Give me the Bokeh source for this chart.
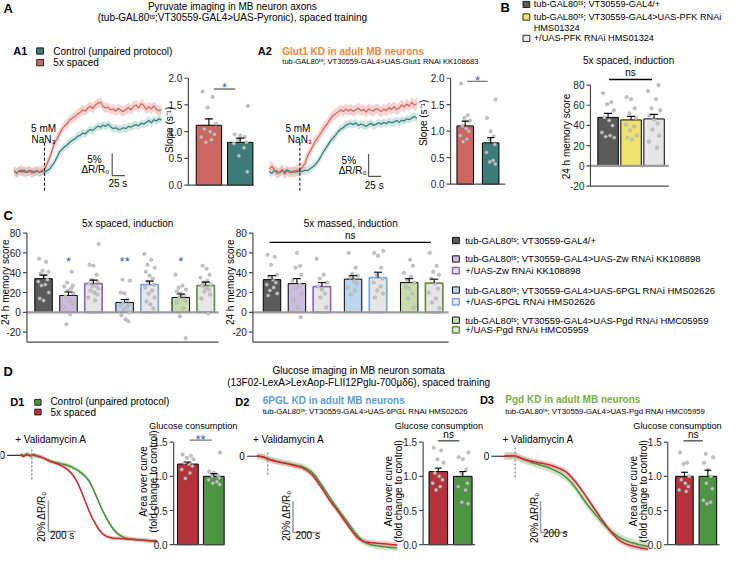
import numpy as np
from bokeh.plotting import figure
from bokeh.models import Range1d
from bokeh.core.properties import value
from bokeh.embed import file_html
from bokeh.resources import INLINE

FONT = "Liberation Sans"

# ------------------------------------------------------------------ data
# Panel A: pyruvate imaging traces (% dR/R0), every 5 s from -60 s to 230 s (0 = NaN3)
A_TIME = list(range(-60, 235, 5))
A1_SPACED = [0.2, -0.3, 0.1, 0.4, -0.2, 0.0, 0.3, -0.4, 0.1, 0.2, -0.1, 0.3, 0.5,
             1.8, 3.0, 4.8, 6.5, 7.4, 8.6, 9.6, 10.2, 10.8, 11.6, 12.0, 12.3, 12.9, 13.2, 13.8,
             13.5, 14.2, 14.6, 14.1, 14.9, 15.3, 15.5, 14.6, 14.2, 14.4, 13.8, 14.0, 13.5, 14.1,
             13.7, 13.4, 13.9, 14.3, 13.8, 14.6, 14.9, 14.2, 15.2, 14.8, 13.9, 14.5, 14.0, 14.7,
             13.9, 13.6, 13.8]
A1_CONTROL = [0.1, -0.4, 0.2, -0.1, 0.3, -0.2, 0.0, 0.2, -0.3, 0.1, -0.2, 0.0, -0.1,
              0.2, 0.6, 1.3, 2.2, 3.3, 4.5, 5.0, 5.6, 6.0, 6.6, 7.0, 7.3, 7.9, 8.1, 8.6,
              8.4, 9.0, 9.4, 9.2, 9.7, 10.2, 9.9, 10.4, 10.1, 10.6, 10.0, 9.6, 9.8, 9.4,
              9.5, 9.8, 9.6, 10.1, 9.9, 10.3, 10.5, 10.2, 10.8, 10.6, 11.0, 11.4, 10.9, 11.6,
              11.3, 11.8, 11.5]
A2_SPACED = [0.6, 1.2, 0.3, -0.5, -0.2, 0.5, -0.6, 0.2, -0.3, 0.1, -0.2, 0.3, 0.4,
             1.0, 1.8, 3.5, 4.5, 5.6, 6.8, 7.5, 8.4, 9.3, 10.1, 10.9, 11.8, 12.5, 12.9, 13.3,
             13.8, 13.4, 14.0, 13.6, 13.9, 13.5, 13.8, 14.2, 13.6, 13.9, 13.3, 14.0, 13.7, 13.5,
             14.1, 13.8, 13.4, 14.0, 13.6, 14.3, 13.9, 14.5, 13.8, 14.2, 14.9, 14.4, 15.1, 14.6,
             15.5, 14.8, 15.2]
A2_CONTROL = [0.0, -0.4, 0.3, 0.1, -0.3, 0.2, -0.1, 0.4, 0.0, -0.2, 0.2, -0.1, 0.1,
              0.0, 0.3, 0.2, 0.6, 1.0, 1.5, 2.2, 3.1, 4.2, 5.0, 5.9, 6.8, 7.5, 8.1, 8.9,
              9.5, 9.8, 10.3, 10.6, 10.8, 10.5, 10.9, 10.3, 10.6, 10.4, 10.1, 10.5, 10.8, 10.3,
              10.6, 10.9, 10.6, 11.0, 10.7, 11.2, 10.9, 11.1, 11.4, 11.0, 11.5, 11.3, 11.8, 11.6,
              12.0, 12.3, 11.9]
A1_SPACED_SEM, A1_CONTROL_SEM = 1.1, 0.9
A2_SPACED_SEM, A2_CONTROL_SEM = 1.2, 0.9
A_SCALE = (5, 25)          # 5 % dR/R0, 25 s

A_GROUPS = ["5x spaced", "Control (unpaired protocol)"]
A1_SLOPE_MEAN = [1.12, 0.80]
A1_SLOPE_SEM = [0.12, 0.08]
A1_SLOPE_DOTS = [[1.75, 1.65, 1.45, 1.15, 1.05, 1.0, 0.95, 0.9, 0.85, 0.8],
                 [1.48, 0.95, 0.93, 0.9, 0.85, 0.8, 0.78, 0.7, 0.55, 0.25]]
A2_SLOPE_MEAN = [1.10, 0.78]
A2_SLOPE_SEM = [0.09, 0.10]
A2_SLOPE_DOTS = [[1.9, 1.3, 1.25, 1.2, 1.1, 1.05, 1.0, 0.92, 0.85, 0.8],
                 [1.6, 1.25, 1.0, 0.9, 0.85, 0.75, 0.6, 0.45, 0.42, 0.38]]
SLOPE_TICKS = [0.0, 0.5, 1.0, 1.5, 2.0]

# Panel B: 24 h memory, PFK
B_GROUPS = ["tub-GAL80ᵗˢ; VT30559-GAL4/+", "tub-GAL80ᵗˢ; VT30559-GAL4>UAS-PFK RNAi HMS01324",
            "+/UAS-PFK RNAi HMS01324"]
B_MEAN = [48, 45.5, 46.5]
B_SEM = [4.0, 3.5, 4.5]
B_DOTS = [[72, 63, 61, 55, 48, 45, 40, 33, 30, 29, 28],
          [68, 66, 57, 52, 47, 41, 39, 35, 30, 28, 26],
          [80, 74, 66, 57, 55, 50, 46, 42, 36, 30, 24, 18]]
MEM_TICKS = [-20, 0, 20, 40, 60, 80]

# Panel C: 24 h memory, PPP knock-downs
C_GROUPS = ["tub-GAL80ᵗˢ; VT30559-GAL4/+",
            "tub-GAL80ᵗˢ; VT30559-GAL4>UAS-Zw RNAi  KK108898",
            "+/UAS-Zw RNAi KK108898",
            "tub-GAL80ᵗˢ; VT30559-GAL4>UAS-6PGL RNAi HMS02626",
            "+/UAS-6PGL RNAi HMS02626",
            "tub-GAL80ᵗˢ; VT30559-GAL4>UAS-Pgd RNAi HMC05959",
            "+/UAS-Pgd RNAi HMC05959"]
C_SPACED_MEAN = [34, 17, 29, 10, 28, 15, 27]
C_SPACED_SEM = [3.5, 3.5, 3.5, 3.0, 3.5, 3.5, 3.5]
C_SPACED_DOTS = [[54, 51, 42, 41, 39, 37, 33, 31, 28, 27, 20, 14, 12],
                 [41, 30, 27, 26, 24, 22, 19, 16, 12, 9, 5, -2, -12],
                 [69, 48, 47, 38, 33, 31, 29, 27, 26, 24, 22, 20, 18, 15, 12],
                 [33, 32, 20, 19, 13, 10, 8, 7, 5, 3, 0, -3, -7, -9],
                 [59, 53, 48, 45, 41, 37, 34, 31, 28, 25, 22, 19, 15, 11, 8, 4],
                 [38, 27, 25, 23, 21, 19, 17, 15, 12, 10, 4, -4, -26],
                 [47, 44, 38, 35, 32, 30, 28, 27, 25, 23, 21, 18, 14, -1]]
C_SPACED_SIG = ["", "*", "", "**", "", "*", ""]
C_MASSED_MEAN = [33, 29, 26, 33.5, 35, 30, 29.5]
C_MASSED_SEM = [4.0, 5.0, 4.0, 3.5, 5.5, 4.0, 4.0]
C_MASSED_DOTS = [[58, 56, 48, 38, 36, 33, 30, 28, 25, 22, 19, 17],
                 [60, 47, 45, 38, 32, 28, 25, 19, 12, 5, -5],
                 [54, 38, 34, 30, 26, 23, 19, 15, 5],
                 [60, 45, 39, 37, 35, 32, 29, 25, 22, 18],
                 [62, 60, 57, 45, 38, 34, 30, 26, 22, 19, 15],
                 [53, 47, 40, 36, 33, 30, 26, 24, 19, 14, 5],
                 [60, 47, 41, 38, 34, 29, 24, 20, 14, 10, 4]]

# Panel D: glucose imaging traces (% dR/R0), every 25 s
D1_TIME = list(range(0, 1001, 25))
D1_SPACED = [0.5, -0.8, 0.9, -0.5, 0.6, -0.4, -1.0, -1.8, -3.0, -4.0, -4.8, -5.6, -6.6, -7.8,
             -9.4, -11.5, -14.6, -18.5, -23.8, -29.5, -35.0, -40.0, -44.0, -47.8, -50.3, -51.8,
             -52.7, -53.2, -53.4, -53.5, -53.6, -53.8, -53.9, -54.0, -54.2, -54.4, -54.6, -54.8,
             -55.0, -55.1, -55.2]
D1_CONTROL = [0.2, 0.0, 0.4, 0.1, -0.2, -0.6, -1.2, -2.0, -3.0, -3.9, -4.5, -5.0, -5.5, -5.9,
              -6.6, -7.5, -8.6, -9.9, -11.5, -13.5, -16.0, -20.0, -25.0, -30.0, -35.2, -39.5,
              -43.4, -46.8, -49.4, -51.2, -52.5, -53.3, -53.8, -54.1, -54.3, -54.4, -54.6, -54.8,
              -55.0, -55.1, -55.3]
D2_TIME = list(range(0, 1026, 25))
D2_SPACED = [0.2, 0.0, -0.4, -1.6, -2.4, -3.0, -3.5, -4.0, -4.4, -4.9, -5.5, -6.1, -6.6, -7.1,
             -8.2, -9.8, -11.6, -14.3, -17.4, -20.6, -24.0, -27.5, -30.5, -33.3, -36.4, -39.6,
             -42.6, -45.8, -48.8, -51.5, -53.5, -54.6, -55.1, -55.5, -55.7, -55.9, -56.1, -56.3,
             -56.5, -56.7, -56.9, -57.1]
D2_CONTROL = [0.0, -0.2, -0.6, -1.4, -2.1, -2.7, -3.3, -3.8, -4.2, -4.6, -5.1, -5.6, -6.1, -6.5,
              -7.4, -8.6, -10.1, -12.4, -15.6, -18.8, -22.1, -25.5, -28.8, -31.9, -35.0, -38.0,
              -41.0, -44.0, -47.0, -49.9, -52.5, -54.6, -55.8, -56.6, -57.2, -57.6, -57.9, -58.2,
              -58.4, -58.6, -58.8, -59.0]
D3_TIME = list(range(0, 1051, 25))
D3_SPACED = [0.0, 0.2, 0.1, 0.4, -0.3, -1.3, -2.1, -2.7, -3.2, -3.7, -4.1, -4.5, -5.0, -5.5,
             -6.1, -6.9, -7.8, -8.7, -10.0, -12.0, -14.4, -17.0, -20.0, -23.1, -26.3, -29.6,
             -32.8, -36.0, -39.3, -42.4, -45.4, -48.2, -50.8, -53.0, -54.7, -55.9, -56.8, -57.5,
             -58.0, -58.5, -59.0, -59.4, -59.8]
D3_CONTROL = [0.0, 0.1, 0.2, 0.0, -0.6, -1.5, -2.4, -3.3, -4.0, -4.7, -5.3, -5.9, -6.6, -7.4,
              -8.4, -9.4, -10.5, -11.7, -13.5, -15.6, -18.0, -20.9, -24.1, -27.3, -30.4, -33.3,
              -35.9, -38.5, -41.2, -43.6, -45.9, -48.0, -49.8, -51.4, -52.7, -53.8, -54.7, -55.4,
              -56.0, -56.6, -57.1, -57.5, -58.0]
D1_SEM = (1.2, 1.5)   # spaced, control
D2_SEM = (1.8, 2.0)
D3_SEM = (1.8, 2.5)
D_STIM = [86, 79, 79]   # Validamycin A addition (s)
D_SCALE = (20, 200)     # 20 % dR/R0, 200 s

D1_MEAN, D1_ERR = [1.18, 1.00], [0.03, 0.04]
D1_DOTS = [[1.32, 1.30, 1.27, 1.25, 1.20, 1.18, 1.15, 1.10, 1.05, 0.97],
           [1.35, 1.07, 1.05, 1.02, 1.00, 0.98, 0.95, 0.92, 0.90, 0.88]]
D2_MEAN, D2_ERR = [1.07, 1.00], [0.05, 0.07]
D2_DOTS = [[1.42, 1.38, 1.25, 1.20, 1.05, 1.00, 0.95, 0.90, 0.85, 0.80],
           [1.35, 1.28, 1.25, 1.10, 1.05, 0.90, 0.85, 0.80, 0.62, 0.60]]
D3_MEAN, D3_ERR = [1.00, 1.00], [0.06, 0.09]
D3_DOTS = [[1.35, 1.20, 1.18, 1.00, 0.95, 0.90, 0.85, 0.80, 0.78],
           [1.33, 1.28, 1.20, 1.10, 1.00, 0.90, 0.82, 0.65, 0.62, 0.60]]
D_TICKS = [0.0, 0.5, 1.0, 1.5]

# ------------------------------------------------------------------ style
JIT = [-0.25, 0.15, -0.05, 0.28, -0.18, 0.05, 0.22, -0.3, 0.1, -0.12, 0.3, -0.22, 0.0, 0.18, -0.08, 0.25]
C_POS = [0, 1, 2, 3.25, 4.25, 5.5, 6.5]
AXC = "#4a4a4a"
STAR = "#3D5DB0"
A_RED, A_RED_BAND, A_TEAL, A_TEAL_BAND = "#D65F5A", "#EDB1AD", "#2E7C78", "#A9CECA"
A_RED_BAR, A_TEAL_BAR = "#CC6661", "#3D7C79"
D_RED, D_RED_BAND, D_GREEN, D_GREEN_BAND = "#C92A2E", "#E9A5A5", "#4A8C3E", "#AFD3A3"
D_RED_BAR, D_GREEN_BAR = "#B5323B", "#4E9444"
B_FILLS = ["#5A5A5A", "#F0E26C", "#E6E6E6"]
C_FILLS = ["#5A5A5A", "#CDBCDD", "#E6E6E6", "#BCD6EF", "#E6E6E6", "#C6DEAC", "#E6E6E6"]
C_EDGES = ["black", "black", "#8B6BB3", "black", "#7DA5DD", "black", "#6A8F3E"]
C_EDGE_W = [1, 1, 1.7, 1, 1.7, 1, 1.7]

p = figure(width=724, height=551, x_range=Range1d(0, 740), y_range=Range1d(567, 0),
           output_backend="svg", toolbar_location=None, tools="",
           x_axis_location=None, y_axis_location=None, min_border=0)
p.grid.visible = False
p.outline_line_color = None
p.background_fill_color = "white"
p.border_fill_color = "white"

R90 = np.pi / 2


def T(x, y, s, size=10, align="left", color="black", bold=False, angle=0.0,
      baseline="middle", g=None, xo=0, yo=0):
    (g or p).text(x=[x], y=[y], text=[s], text_font=value(FONT), text_font_size=f"{size}px",
                  text_align=align, text_baseline=baseline, text_color=color,
                  text_font_style="bold" if bold else "normal", angle=angle,
                  x_offset=xo, y_offset=yo)


def sub(xs, xt, ys, yt):
    return p.subplot(x_source=Range1d(*xs), y_source=Range1d(*ys),
                     x_target=Range1d(*xt), y_target=Range1d(*yt))


def key(x, y, fill, edge="black", lw=0.8, w=7, h=6.5):
    p.quad(left=[x], right=[x + w], top=[y - h / 2], bottom=[y + h / 2],
           fill_color=fill, line_color=edge, line_width=lw)


def trace(g, t, v, sem, color, band, alpha=0.55):
    v = np.asarray(v, float)
    g.varea(x=t, y1=v - sem, y2=v + sem, fill_color=band, fill_alpha=alpha)


def tline(g, t, v, color, lw):
    g.line(x=t, y=v, line_color=color, line_width=lw)


def bar_panel(xs, xt, ys, yt, means, sems, dots, fills, edges, ticks, labels,
              pos=None, bw=0.8, edge_w=1.0, cap=7, axis_y0=None, zero_line=False,
              dot_size=3.4):
    g = sub(xs, xt, ys, yt)
    pos = pos if pos is not None else list(range(len(means)))
    x0, x1 = xs
    if axis_y0 is None:
        axis_y0 = ticks[0]
    g.vbar(x=pos, top=means, bottom=0, width=bw, fill_color=fills, line_color=edges,
           line_width=edge_w)
    if zero_line:
        g.segment(x0=[x0], y0=[0], x1=[x1], y1=[0], line_color="#9C9C9C", line_width=2.2)
    dx, dy, k = [], [], 0
    for c, vals in zip(pos, dots):
        for v in vals:
            dx.append(c + JIT[k % len(JIT)] * bw)
            dy.append(v)
            k += 1
    g.scatter(x=dx, y=dy, size=dot_size, fill_color="#C6C6C6", line_color="#9A9A9A",
              line_width=0.5)
    tops = [m + s for m, s in zip(means, sems)]
    g.segment(x0=pos, y0=means, x1=pos, y1=tops, line_color="black", line_width=1.1)
    g.scatter(x=pos, y=tops, marker="dash", size=cap, line_color="black", line_width=1.1)
    g.segment(x0=[x0], y0=[min(axis_y0, ticks[0])], x1=[x0], y1=[ticks[-1]],
              line_color=AXC, line_width=1.2)
    g.segment(x0=[x0], y0=[axis_y0], x1=[x1], y1=[axis_y0], line_color=AXC, line_width=1.2)
    g.ray(x=[x0] * len(ticks), y=ticks, length=4, length_units="screen", angle=np.pi,
          line_color=AXC, line_width=1.2)
    g.text(x=[x0] * len(ticks), y=ticks, text=labels, x_offset=-6, text_align="right",
           text_baseline="middle", text_font=value(FONT), text_font_size="10px",
           text_color="#222222")
    return g


def sig(g, x0, x1, y, s, color="#777777", scolor=STAR, size=13):
    g.segment(x0=[x0], y0=[y], x1=[x1], y1=[y], line_color=color, line_width=1.4)
    if s == "ns":
        T((x0 + x1) / 2, y, s, 10, "center", color="black", baseline="bottom", g=g, yo=-1)
    else:
        T((x0 + x1) / 2, y, s, size, "center", color=scolor, baseline="middle", g=g, yo=-1)


slope_labels = [f"{t:.1f}" for t in SLOPE_TICKS]
mem_labels = [str(t) for t in MEM_TICKS]
d_labels = [f"{t:.1f}" for t in D_TICKS]

# ------------------------------------------------------------------ panel A
T(3, 8, "A", 13, bold=True)
T(237, 6, "Pyruvate imaging in MB neuron axons", 10, "center")
T(237, 17, "(tub-GAL80ᵗˢ;VT30559-GAL4>UAS-Pyronic), spaced training", 10, "center")
T(13, 52, "A1", 11, bold=True)
key(37, 52, A_TEAL_BAR)
key(37, 64, A_RED_BAR)
T(54, 52, A_GROUPS[1], 10)
T(54, 64, A_GROUPS[0], 10)

for (xt, sp, ct, sps, cts, sb) in [((13.8, 164.6), A1_SPACED, A1_CONTROL, A1_SPACED_SEM, A1_CONTROL_SEM, (133, -0.9)),
                                   ((274.8, 425.6), A2_SPACED, A2_CONTROL, A2_SPACED_SEM, A2_CONTROL_SEM, (135, -1.1))]:
    g = sub((-60, 230), xt, (0, 10), (176, 130))
    trace(g, A_TIME, ct, cts, A_TEAL, A_TEAL_BAND)
    trace(g, A_TIME, sp, sps, A_RED, A_RED_BAND)
    tline(g, A_TIME, ct, A_TEAL, 1.2)
    tline(g, A_TIME, sp, A_RED, 1.2)
    g.segment(x0=[0], y0=[-4.3], x1=[0], y1=[6.7], line_color="black", line_width=1,
              line_dash="3 2")
    g.line(x=[sb[0], sb[0], sb[0] + A_SCALE[1]], y=[sb[1] + A_SCALE[0], sb[1], sb[1]],
           line_color="#555555", line_width=1.2)

T(44, 132, "5 mM", 10, "center")
T(44, 143, "NaN₃", 10, "center")
T(96, 164, "5%", 10, "center")
T(97, 174, "ΔR/R₀", 10, "center")
T(120, 188, "25 s", 10, "center")
T(304, 132, "5 mM", 10, "center")
T(306, 143, "NaN₃", 10, "center")
T(356, 165, "5%", 10, "center")
T(360, 175, "ΔR/R₀", 10, "center")
T(382, 190, "25 s", 10, "center")

g = bar_panel((-0.656, 1.4375), (192, 259), (0, 2), (190, 80), A1_SLOPE_MEAN, A1_SLOPE_SEM,
              A1_SLOPE_DOTS, [A_RED_BAR, A_TEAL_BAR], ["black", "black"], SLOPE_TICKS,
              slope_labels, bw=0.81, cap=8)
sig(g, 0.156, 0.84, 1.8, "*")
T(173, 133, "Slope (s⁻¹)", 10, "center", angle=R90)

T(263, 52, "A2", 11, bold=True)
T(288, 52, "Glut1 KD in adult MB neurons", 10, color="#E8893C", bold=True)
T(288, 63, "tub-GAL80ᵗˢ; VT30559-GAL4>UAS-Glut1 RNAi KK108683", 7.6)
g = bar_panel((-0.577, 1.577), (460, 516), (0, 2), (189, 80), A2_SLOPE_MEAN, A2_SLOPE_SEM,
              A2_SLOPE_DOTS, [A_RED_BAR, A_TEAL_BAR], ["black", "black"], SLOPE_TICKS,
              slope_labels, bw=0.65, cap=7)
sig(g, 0.077, 0.885, 1.94, "*")
T(432, 126, "Slope (s⁻¹)", 10, "center", angle=R90)

# ------------------------------------------------------------------ panel B
T(511, 7, "B", 13, bold=True)
key(534, 4, B_FILLS[0])
key(534, 17, B_FILLS[1])
key(534, 39, B_FILLS[2])
T(545, 4, B_GROUPS[0], 9.2)
T(545, 17, "tub-GAL80ᵗˢ; VT30559-GAL4>UAS-PFK RNAi", 9.2)
T(545, 28, "HMS01324", 9.2)
T(545, 39, B_GROUPS[2], 9.2)
T(642, 62, "5x spaced, induction", 10, "center")
g = bar_panel((-0.766, 2.638), (603, 683), (-20, 80), (191, 87), B_MEAN, B_SEM, B_DOTS,
              B_FILLS, ["black"] * 3, MEM_TICKS, mem_labels, bw=0.89, cap=8, zero_line=True)
sig(g, 0.04, 1.91, 85.5, "ns", color="black")
T(579, 140, "24 h memory score", 10, "center", angle=R90)

# ------------------------------------------------------------------ panel C
T(3, 221, "C", 13, bold=True)
T(130, 229, "5x spaced, induction", 10, "center")
T(358, 229, "5x massed, induction", 10, "center")
g = bar_panel((-0.667, 7.02), (27, 223), (-30, 80), (351.5, 239.3), C_SPACED_MEAN,
              C_SPACED_SEM, C_SPACED_DOTS, C_FILLS, C_EDGES, MEM_TICKS, mem_labels, pos=C_POS,
              bw=0.7, edge_w=C_EDGE_W, cap=8, axis_y0=-30, zero_line=True)
for xp, s in zip(C_POS, C_SPACED_SIG):
    if s:
        T(xp, 51, s, 13, "center", color=STAR, g=g)
T(5, 290, "24 h memory score", 10, "center", angle=R90)

g = bar_panel((-0.765, 7.08), (258, 458), (-30, 80), (351.5, 239.3), C_MASSED_MEAN,
              C_MASSED_SEM, C_MASSED_DOTS, C_FILLS, C_EDGES, MEM_TICKS, mem_labels, pos=C_POS,
              bw=0.7, edge_w=C_EDGE_W, cap=8, axis_y0=-30, zero_line=True)
sig(g, -0.1, 6.37, 70.6, "ns", color="black")
T(235, 290, "24 h memory score", 10, "center", angle=R90)

for yk, f, e, lw, s in zip([247, 266, 278, 298, 310, 329, 339], C_FILLS, C_EDGES, C_EDGE_W, C_GROUPS):
    key(462, yk, f, e, lw * 0.9)
    T(475, yk, s, 9.5)

# ------------------------------------------------------------------ panel D
T(3, 382, "D", 13, bold=True)
T(366, 381, "Glucose imaging in MB neuron somata", 10, "center")
T(366, 393, "(13F02-LexA>LexAop-FLII12Pglu-700µδ6), spaced training", 10, "center")
T(10, 413, "D1", 11, bold=True)
key(35, 413.5, D_GREEN_BAR, w=6.5, h=6)
key(35, 423.5, D_RED_BAR, w=6.5, h=6)
T(51, 413, A_GROUPS[1], 10)
T(51, 424, A_GROUPS[0], 10)
T(240, 413, "D2", 11, bold=True)
T(268, 412, "6PGL KD in adult MB neurons", 10, color="#5B9BD5", bold=True)
T(268, 423, "tub-GAL80ᵗˢ; VT30559-GAL4>UAS-6PGL RNAi HMS02626", 7.8)
T(490, 411, "D3", 11, bold=True)
T(516, 411, "Pgd KD in adult MB neurons", 10, color="#7AAE3C", bold=True)
T(516, 423, "tub-GAL80ᵗˢ; VT30559-GAL4>UAS-Pgd RNAi HMC05959", 7.8)

d_traces = [
    (D1_TIME, D1_SPACED, D1_CONTROL, D1_SEM, (0, 1000), (20, 160), 468, D_STIM[0], (3.75, -15.6), 207, 13, -15),
    (D2_TIME, D2_SPACED, D2_CONTROL, D2_SEM, (0, 1025), (262, 405.5), 469, D_STIM[1], (2.5, -13.0), 264, 10, -12),
    (D3_TIME, D3_SPACED, D3_CONTROL, D3_SEM, (0, 1050), (515, 662), 469, D_STIM[2], (5.6, -14.4), 264, 13, -15),
]
for (tt, sp, ct, sems, xs, xt, y0, stim, dash, sbx, tick_len, lab_off) in d_traces:
    g = sub(xs, xt, (0, -50), (y0, y0 + 80))
    trace(g, tt, ct, sems[1], D_GREEN, D_GREEN_BAND, 0.6)
    trace(g, tt, sp, sems[0], D_RED, D_RED_BAND, 0.6)
    tline(g, tt, ct, D_GREEN, 1.5)
    tline(g, tt, sp, D_RED, 1.5)
    g.segment(x0=[stim], y0=[dash[0]], x1=[stim], y1=[dash[1]], line_color="#8A8A8A",
              line_width=1.4, line_dash="2 2")
    g.line(x=[sbx, sbx, sbx + D_SCALE[1]], y=[-49 + D_SCALE[0], -49, -49],
           line_color="#9A9A9A", line_width=1.5)
    g.ray(x=[0], y=[0], length=tick_len, length_units="screen", angle=np.pi,
          line_color="#333333", line_width=1.2)
    T(0, 0, "0", 10, "right", g=g, xo=lab_off)

for (x, yv) in [(15, 452), (258, 452), (513, 452)]:
    T(x, yv, "+ Validamycin A", 10)
T(42, 531, "20% ΔR/R₀", 10, "center", angle=R90)
T(63, 551, "200 s", 10, "center")
T(292, 530, "20% ΔR/R₀", 10, "center", angle=R90)
T(314, 551, "200 s", 10, "center")
T(546, 532, "20% ΔR/R₀", 10, "center", angle=R90)
T(567, 548, "200 s", 10, "center")

d_bars = [
    ((-0.547, 1.415), (177, 229), D1_MEAN, D1_ERR, D1_DOTS, 0.8, (0.06, 0.92, 1.53, "**"),
     (146, 156, 495), 197),
    ((-0.62, 1.5), (432, 485), D2_MEAN, D2_ERR, D2_DOTS, 0.76, (-0.02, 0.86, 1.52, "ns"),
     (397, 407, 505), 448),
    ((-0.71, 1.5), (682, 735), D3_MEAN, D3_ERR, D3_DOTS, 0.75, (-0.04, 0.79, 1.52, "ns"),
     (647, 657, 505), 692),
]
for (xs, xt, m, e, dts, bw, sg, yl, gx) in d_bars:
    g = bar_panel(xs, xt, (0, 1.5), (560, 454.5), m, e, dts, [D_RED_BAR, D_GREEN_BAR],
                  ["black", "black"], D_TICKS, d_labels, bw=bw, cap=7)
    sig(g, sg[0], sg[1], sg[2], sg[3], color="#777777" if sg[3] != "ns" else "#555555")
    T(yl[0], yl[2], "Area over curve", 10, "center", angle=R90)
    T(yl[1], yl[2], "(fold change to control)", 10, "center", angle=R90)
    T(gx, 438, "Glucose consumption", 9.2, "center")

open("out.html", "w").write(file_html(p, INLINE))
